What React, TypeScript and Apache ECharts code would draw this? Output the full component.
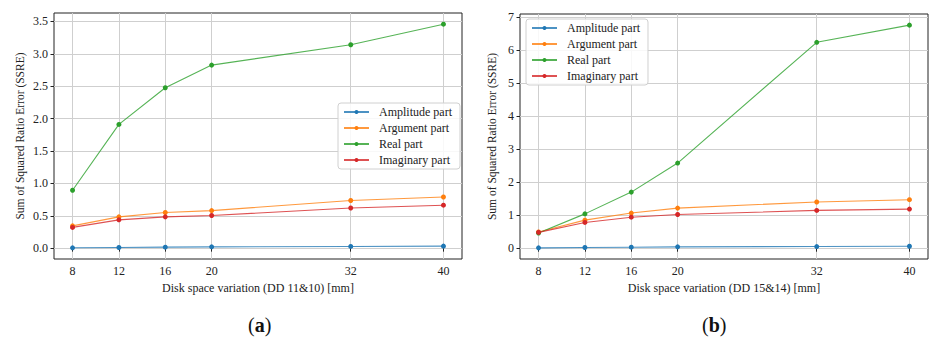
import React, { useEffect, useRef } from "react";
import * as echarts from "echarts";

// Disk spacing variations (mm)
const spacings = [8, 12, 16, 20, 32, 40];

const seriesNames = ["Amplitude part", "Argument part", "Real part", "Imaginary part"];
const seriesColors = ["#1f77b4", "#ff7f0e", "#2ca02c", "#d62728"];

// (a) DD 11&10
const ampA = [0.005, 0.01, 0.015, 0.02, 0.026, 0.031];
const argA = [0.344, 0.483, 0.55, 0.58, 0.735, 0.79];
const realA = [0.894, 1.91, 2.477, 2.826, 3.14, 3.458];
const imagA = [0.32, 0.437, 0.483, 0.504, 0.62, 0.663];

// (b) DD 15&14
const ampB = [0.01, 0.02, 0.03, 0.04, 0.05, 0.06];
const argB = [0.49, 0.85, 1.065, 1.215, 1.4, 1.47];
const realB = [0.46, 1.04, 1.7, 2.58, 6.24, 6.76];
const imagB = [0.48, 0.78, 0.94, 1.02, 1.145, 1.185];

const yTicksA = [0, 0.5, 1, 1.5, 2, 2.5, 3, 3.5];
const yTicksB = [0, 1, 2, 3, 4, 5, 6, 7];

const xNameA = "Disk space variation (DD 11&10) [mm]";
const xNameB = "Disk space variation (DD 15&14) [mm]";
const yName = "Sum of Squared Ratio Error (SSRE)";

const FONT = "'Liberation Serif', 'Times New Roman', 'DejaVu Serif', serif";
const GRID_COLOR = "#cfcfcf";

// 5 % padding around the data, like a default matplotlib axes
function padRange(values: number[]): [number, number] {
  const lo = Math.min(...values);
  const hi = Math.max(...values);
  const m = (hi - lo) * 0.05;
  return [lo - m, hi + m];
}

function xAxisFor(gridIndex: number, name: string) {
  const [min, max] = padRange(spacings);
  return {
    type: "value",
    gridIndex,
    min,
    max,
    name,
    nameLocation: "middle",
    nameGap: 21,
    nameTextStyle: { fontFamily: FONT, fontSize: 12, color: "#222" },
    axisLine: { show: false },
    axisTick: {
      show: true,
      inside: false,
      length: 3.5,
      customValues: spacings,
      lineStyle: { color: "#222", width: 1 },
    },
    axisLabel: {
      customValues: spacings,
      margin: 6,
      fontFamily: FONT,
      fontSize: 12,
      color: "#222",
    },
    splitLine: { show: true, lineStyle: { color: GRID_COLOR, width: 1 } },
  };
}

function yAxisFor(gridIndex: number, all: number[][], ticks: number[], fmt: (v: number) => string, gap: number) {
  const [min, max] = padRange(all.flat());
  return {
    type: "value",
    gridIndex,
    min,
    max,
    name: yName,
    nameLocation: "middle",
    nameGap: gap,
    nameTextStyle: { fontFamily: FONT, fontSize: 11.5, color: "#222" },
    axisLine: { show: false },
    axisTick: {
      show: true,
      inside: false,
      length: 3.5,
      customValues: ticks,
      lineStyle: { color: "#222", width: 1 },
    },
    axisLabel: {
      customValues: ticks,
      margin: 6,
      fontFamily: FONT,
      fontSize: 12,
      color: "#222",
      formatter: (v: number) => fmt(v),
    },
    splitLine: { show: true, lineStyle: { color: GRID_COLOR, width: 1 } },
  };
}

function makeSeries(gridIndex: number, groups: number[][]) {
  return groups.map((vals, i) => ({
    type: "line",
    name: seriesNames[i],
    xAxisIndex: gridIndex,
    yAxisIndex: gridIndex,
    data: spacings.map((x, k) => [x, vals[k]]),
    symbol: "circle",
    symbolSize: 5,
    showSymbol: true,
    color: seriesColors[i],
    itemStyle: { color: seriesColors[i], borderWidth: 0 },
    lineStyle: { color: seriesColors[i], width: 1.1, opacity: 0.8 },
    z: 3 + i,
  }));
}

function legendAt(left: number, top: number) {
  return {
    data: seriesNames,
    orient: "vertical",
    left,
    top,
    itemWidth: 25,
    itemHeight: 5,
    itemGap: 4,
    padding: [3, 8, 3, 5],
    backgroundColor: "rgba(255,255,255,0.85)",
    borderColor: "#d0d0d0",
    borderWidth: 1,
    borderRadius: 3,
    selectedMode: false,
    textStyle: {
      fontFamily: FONT,
      fontSize: 12,
      color: "#222",
      lineHeight: 12,
      padding: [0, 0, 0, 5],
    },
  };
}

function panelLabel(left: number, letter: string) {
  return {
    type: "text",
    left,
    top: 315,
    style: {
      text: "({b|" + letter + "})",
      fontFamily: FONT,
      fontSize: 20,
      fill: "#111",
      rich: { b: { fontWeight: "bold", fontFamily: FONT, fontSize: 20, fill: "#111" } },
    },
  };
}

export default function App() {
  const ref = useRef<HTMLDivElement>(null);

  useEffect(() => {
    if (!ref.current) return;
    const chart = echarts.init(ref.current, null, { renderer: "svg" });
    const groupsA = [ampA, argA, realA, imagA];
    const groupsB = [ampB, argB, realB, imagB];

    chart.setOption({
      animation: false,
      backgroundColor: "#ffffff",
      textStyle: { fontFamily: FONT },
      grid: [
        { left: 54, top: 13, width: 408, height: 246, show: true, borderColor: "#222", borderWidth: 1, backgroundColor: "transparent" },
        { left: 520, top: 14, width: 408, height: 245, show: true, borderColor: "#222", borderWidth: 1, backgroundColor: "transparent" },
      ],
      legend: [legendAt(338, 103), legendAt(526, 19)],
      xAxis: [xAxisFor(0, xNameA), xAxisFor(1, xNameB)],
      yAxis: [
        yAxisFor(0, groupsA, yTicksA, (v) => v.toFixed(1), 28),
        yAxisFor(1, groupsB, yTicksB, (v) => String(Math.round(v)), 22),
      ],
      series: [...makeSeries(0, groupsA), ...makeSeries(1, groupsB)],
      graphic: [panelLabel(248, "a"), panelLabel(702, "b")],
    });

    return () => chart.dispose();
  }, []);

  return (
    <div
      ref={ref}
      style={{ position: "absolute", left: 0, top: 0, width: 929, height: 345 }}
    />
  );
}
